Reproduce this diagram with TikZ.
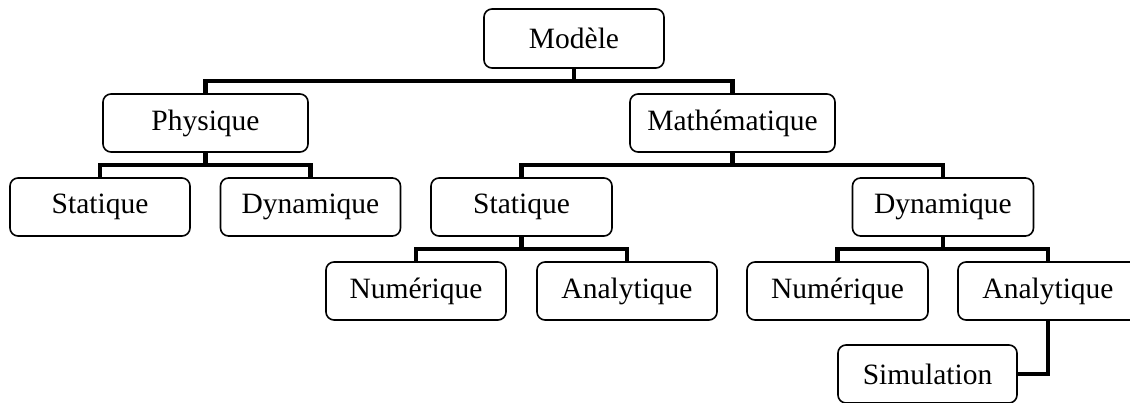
\documentclass[tikz,border=0pt]{standalone}
\usepackage{fontspec}
\setmainfont{Liberation Serif}
\usetikzlibrary{calc}
\begin{document}
\begin{tikzpicture}[x=1pt,y=-1pt,
  box/.style={draw=black, line width=1.6pt, rounded corners=8pt, inner sep=0pt,
    minimum height=58pt, font=\fontsize{29.5}{34}\selectfont, fill=white},
  conn/.style={draw=black, line width=4.6pt, line join=miter}]
\useasboundingbox (0,0) rectangle (1130,402);
\clip (0,0) rectangle (1130,402);
\fill[white] (0,0) rectangle (1130,402);
% nodes
\node[box, minimum width=180pt, minimum height=59pt] (modele) at (574,38.5) {Modèle};
\node[box, minimum width=205pt] (phys) at (205.5,123) {Physique};
\node[box, minimum width=205pt] (math) at (732.5,123) {Mathématique};
\node[box, minimum width=180pt] (stat1) at (100,207) {Statique};
\node[box, minimum width=180pt] (dyn1) at (310.5,207) {Dynamique};
\node[box, minimum width=181pt] (stat2) at (521.5,207) {Statique};
\node[box, minimum width=181pt] (dyn2) at (943,207) {Dynamique};
\node[box, minimum width=180pt] (num1) at (416,291) {Numérique};
\node[box, minimum width=180pt] (ana1) at (627,291) {Analytique};
\node[box, minimum width=181pt] (num2) at (837.5,291) {Numérique};
\node[box, minimum width=180pt] (ana2) at (1048,291) {Analytique};
\node[box, minimum width=179pt] (sim) at (927.5,374) {Simulation};
% connectors
\coordinate (b1) at ($(modele.south)!0.5!(phys.north)$);
\draw[conn] (phys.north) |- (b1) -| (math.north);
\draw[conn] (modele.south) -- (modele.south |- b1);
\coordinate (b2) at ($(phys.south)!0.5!(stat1.north)$);
\draw[conn] (stat1.north) |- (b2) -| (dyn1.north);
\draw[conn] (phys.south) -- (phys.south |- b2);
\coordinate (b3) at ($(math.south)!0.5!(stat2.north)$);
\draw[conn] (stat2.north) |- (b3) -| (dyn2.north);
\draw[conn] (math.south) -- (math.south |- b3);
\coordinate (b4) at ($(stat2.south)!0.5!(num1.north)$);
\draw[conn] (num1.north) |- (b4) -| (ana1.north);
\draw[conn] (stat2.south) -- (stat2.south |- b4);
\coordinate (b5) at ($(dyn2.south)!0.5!(num2.north)$);
\draw[conn] (num2.north) |- (b5) -| (ana2.north);
\draw[conn] (dyn2.south) -- (dyn2.south |- b5);
\draw[conn] (ana2.south) |- (sim.east);
\end{tikzpicture}
\end{document}
